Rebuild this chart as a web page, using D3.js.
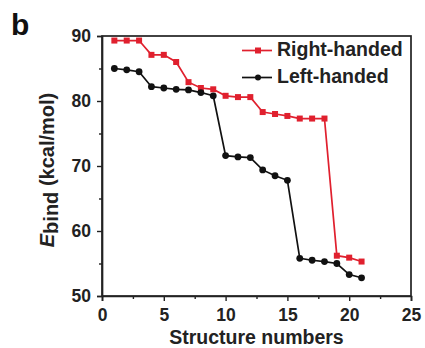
<!DOCTYPE html>
<html>
<head>
<meta charset="utf-8">
<script src="https://cdn.jsdelivr.net/npm/d3@7"></script>
<style>
  html, body { margin: 0; padding: 0; background: #fff; }
  svg { display: block; font-family: "Liberation Sans", Arial, sans-serif; }
</style>
</head>
<body>
<svg id="chart" width="425" height="348"></svg>
<script>
// Binding energies per structure
const structures = [1,2,3,4,5,6,7,8,9,10,11,12,13,14,15,16,17,18,19,20,21];
const rightHanded = [89.3,89.3,89.3,87.1,87.1,86.0,82.9,82.0,81.8,80.8,80.6,80.6,78.3,78.0,77.7,77.3,77.3,77.3,56.2,55.9,55.3];
const leftHanded  = [85.0,84.8,84.5,82.2,82.0,81.8,81.7,81.3,80.8,71.6,71.4,71.3,69.4,68.5,67.8,55.8,55.5,55.3,55.0,53.3,52.8];
const xTicks = [0,5,10,15,20,25];
const yTicks = [50,60,70,80,90];
const seriesNames = ["Right-handed","Left-handed"];
const seriesColors = ["#e0202e","#111111"];

const svg = d3.select("#chart");
const plotL = 102, plotR = 411, plotT = 36, plotB = 296;

const x = d3.scaleLinear().domain([0,25]).range([plotL,plotR]);
const y = d3.scaleLinear().domain([50,90]).range([plotB,plotT]);

const axisColor = "#222";

// frame
svg.append("rect")
  .attr("x", plotL).attr("y", plotT)
  .attr("width", plotR-plotL).attr("height", plotB-plotT)
  .attr("fill","none").attr("stroke",axisColor).attr("stroke-width",1.7);

// minor ticks
const xMinor = d3.range(2.5, 25, 5);
const yMinor = d3.range(55, 90, 10);

svg.append("g").attr("class","xaxis").attr("transform",`translate(0,${plotB})`)
  .call(d3.axisBottom(x).tickValues(xTicks).tickSize(5).tickPadding(8).tickFormat(d3.format("d")));
svg.append("g").attr("transform",`translate(0,${plotB})`)
  .call(d3.axisBottom(x).tickValues(xMinor).tickSize(3).tickFormat(""))
  .call(g => g.select(".domain").remove());

svg.append("g").attr("class","yaxis").attr("transform",`translate(${plotL},0)`)
  .call(d3.axisLeft(y).tickValues(yTicks).tickSize(5).tickPadding(6).tickFormat(d3.format("d")));
svg.append("g").attr("transform",`translate(${plotL},0)`)
  .call(d3.axisLeft(y).tickValues(yMinor).tickSize(3).tickFormat(""))
  .call(g => g.select(".domain").remove());

svg.selectAll(".domain").attr("stroke",axisColor).attr("stroke-width",1.7);
svg.selectAll(".tick line").attr("stroke",axisColor).attr("stroke-width",1.4);
svg.selectAll(".tick text")
  .attr("fill","#222").style("font-size","17.5px").style("font-weight","bold")
  .style("font-family","'Liberation Sans', Arial, sans-serif");

// series
const line = d3.line().x((d,i)=>x(structures[i])).y(d=>y(d));
const data = [rightHanded, leftHanded];

data.forEach((vals, k) => {
  svg.append("path").datum(vals)
    .attr("d", line).attr("fill","none")
    .attr("stroke", seriesColors[k]).attr("stroke-width",1.7);
});

// right-handed: squares
svg.append("g").selectAll("rect").data(rightHanded).join("rect")
  .attr("x",(d,i)=>x(structures[i])-3).attr("y",d=>y(d)-3)
  .attr("width",6).attr("height",6).attr("fill",seriesColors[0]);

// left-handed: circles
svg.append("g").selectAll("circle").data(leftHanded).join("circle")
  .attr("cx",(d,i)=>x(structures[i])).attr("cy",d=>y(d))
  .attr("r",3.4).attr("fill",seriesColors[1]);

// legend
const legY = [50.5, 77.5];
seriesNames.forEach((name,k) => {
  const g = svg.append("g");
  g.append("line").attr("x1",242).attr("x2",272).attr("y1",legY[k]).attr("y2",legY[k])
    .attr("stroke",seriesColors[k]).attr("stroke-width",1.7);
  if (k === 0) {
    g.append("rect").attr("x",255).attr("y",legY[k]-3).attr("width",6).attr("height",6).attr("fill",seriesColors[k]);
  } else {
    g.append("circle").attr("cx",258).attr("cy",legY[k]).attr("r",3).attr("fill",seriesColors[k]);
  }
  g.append("text").attr("x",277).attr("y",legY[k]+5)
    .attr("fill","#222").style("font-size","19.5px").style("font-weight","bold").text(name);
});

// axis titles
svg.append("text").attr("x",(plotL+plotR)/2).attr("y",344)
  .attr("text-anchor","middle").attr("fill","#222")
  .style("font-size","19.5px").style("font-weight","bold").text("Structure numbers");

const yt = svg.append("text")
  .attr("transform","translate(54,170) rotate(-90)")
  .attr("text-anchor","middle").attr("fill","#222")
  .style("font-size","20px").style("font-weight","bold");
yt.append("tspan").style("font-style","italic").text("E");
yt.append("tspan").attr("dy",4).text("bind");
yt.append("tspan").attr("dy",-4).text(" (kcal/mol)");

// panel letter
svg.append("text").attr("x",11).attr("y",35)
  .attr("fill","#111").style("font-size","30px").style("font-weight","bold").text("b");
</script>
</body>
</html>
